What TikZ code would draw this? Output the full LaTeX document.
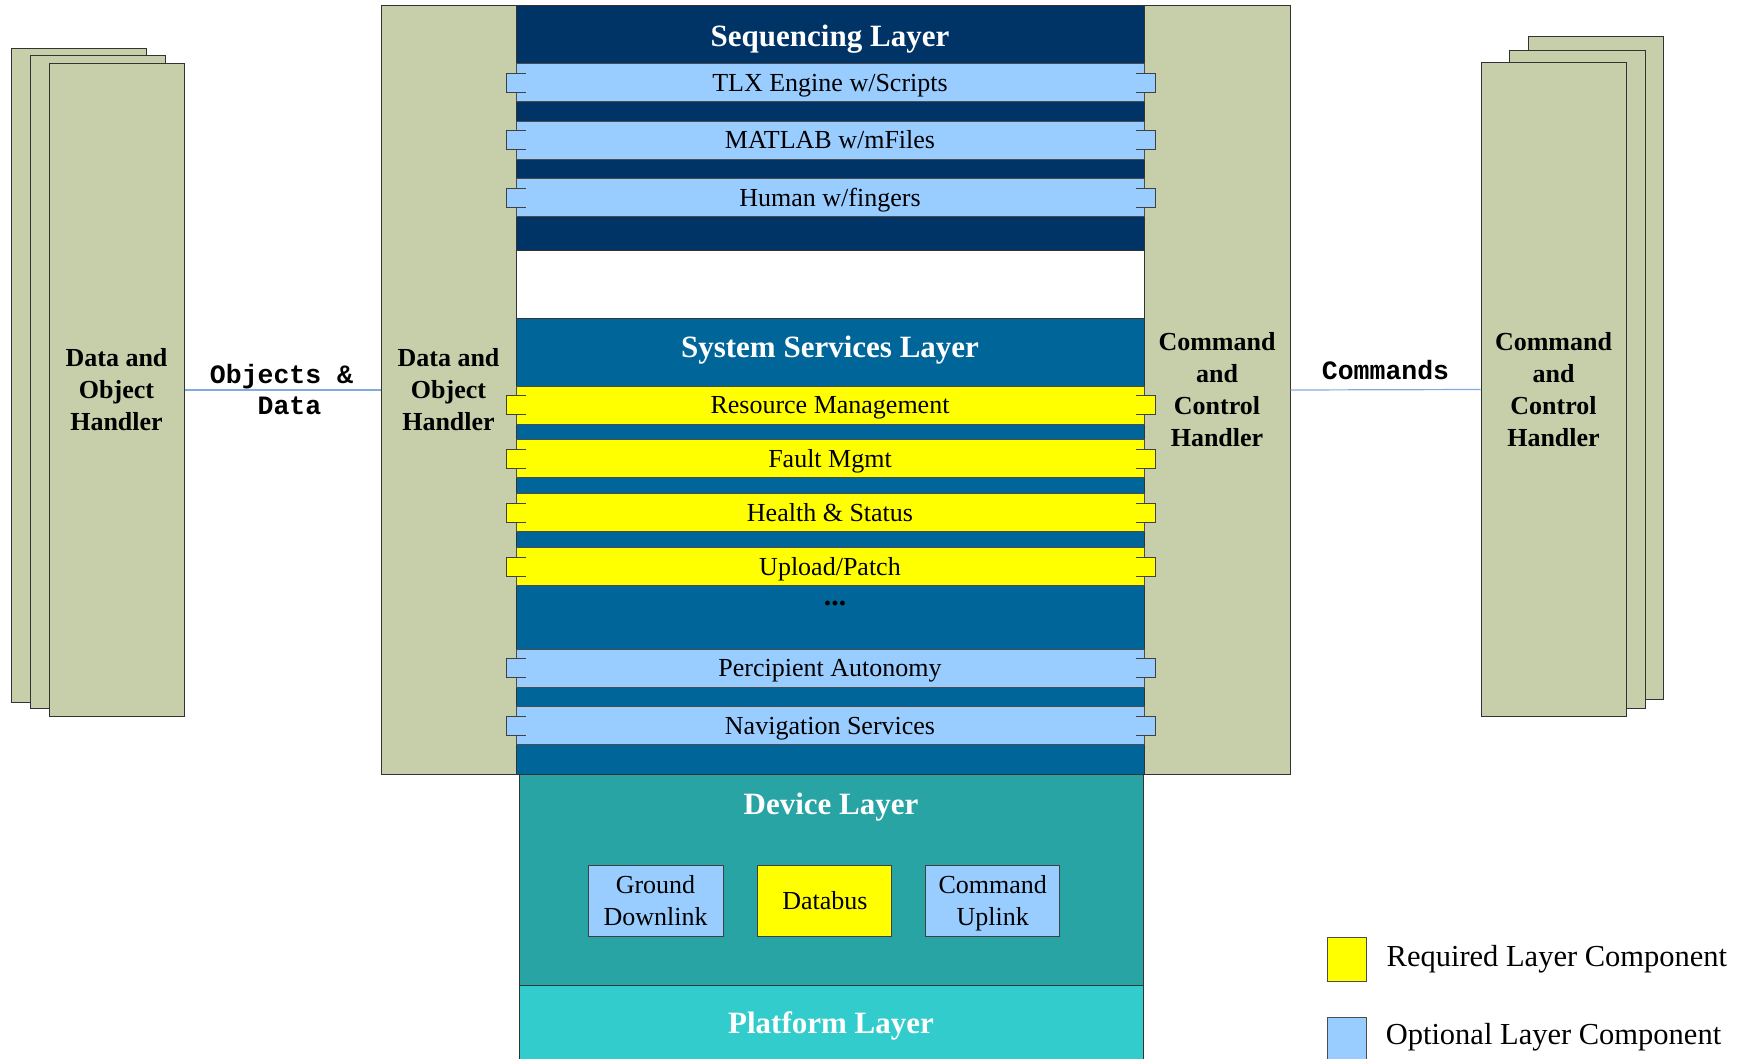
\documentclass[tikz,border=0pt]{standalone}
\usepackage{fontspec}
\setmainfont{Liberation Serif}
\setmonofont{Liberation Mono}
\usetikzlibrary{positioning}

\definecolor{handlerbg}{RGB}{198,206,170}
\definecolor{seqnavy}{RGB}{0,51,102}
\definecolor{servblue}{RGB}{0,102,153}
\definecolor{optblue}{RGB}{153,204,255}
\definecolor{reqyellow}{RGB}{255,255,0}
\definecolor{devteal}{RGB}{41,164,164}
\definecolor{platcyan}{RGB}{51,204,204}
\definecolor{linkblue}{RGB}{130,170,220}

\tikzset{
  handler/.style={draw=black!80, fill=handlerbg, line width=1pt, inner sep=0pt, align=center,
    font=\fontsize{26}{32}\selectfont\bfseries},
  layer/.style={draw=black!80, line width=1pt, inner sep=0pt, minimum width=628pt},
  ltitle/.style={text=white, font=\fontsize{31}{36}\selectfont\bfseries},
  bar/.style={draw=black!70, line width=0.9pt, inner sep=0pt, minimum width=628pt, minimum height=38pt,
    text height=17.2pt, text depth=0pt, font=\fontsize{26}{30}\selectfont},
  devbox/.style={draw=black!75, line width=0.9pt, inner sep=0pt, minimum width=135pt, minimum height=71pt,
    align=center, text depth=0pt, font=\fontsize{26}{32}\selectfont},
  tabline/.style={draw=black!75, line width=0.9pt},
  link/.style={draw=linkblue, line width=1.2pt},
  linklabel/.style={font=\fontsize{26.5}{31}\selectfont\ttfamily\bfseries, align=center},
  legendbox/.style={draw=black!70, line width=0.9pt, minimum width=39pt, minimum height=44pt, inner sep=0pt},
  legendtext/.style={anchor=west, inner sep=0pt, font=\fontsize{30.5}{36}\selectfont}
}

\begin{document}
\begin{tikzpicture}[x=1pt, y=-1pt]
\useasboundingbox (0,0) rectangle (1750,1059);

% outer handler stacks
\node[handler, minimum width=135pt, minimum height=653pt] (dohA) at (78.5,375.5) {};
\node[handler, minimum width=135pt, minimum height=652pt] (dohB) at (97.5,382) {};
\node[handler, minimum width=135pt, minimum height=652pt] (dohC) at (116.5,390) {Data and\\Object\\Handler};
\node[handler, minimum width=135pt, minimum height=662pt] (ccA) at (1595.5,368) {};
\node[handler, minimum width=136pt, minimum height=657pt] (ccB) at (1577,379.5) {};
\node[handler, minimum width=145pt, minimum height=653pt] (ccC) at (1553.5,389.5) {Command\\and\\Control\\Handler};

% layers
\node[layer, fill=seqnavy, minimum height=245pt] (seq) at (830,128.5) {};
\node[layer, fill=servblue, minimum height=456pt] (serv) at (830,546) {};
\node[layer, fill=devteal, minimum width=624pt, minimum height=211pt] (dev) at (831,879.5) {};
\node[layer, fill=platcyan, minimum width=624pt, minimum height=79pt] (plat) at (831,1024.5) {};

% inner handler panels
\node[handler, minimum width=135pt, minimum height=768pt] (dohP) at (448.5,390) {Data and\\Object\\Handler};
\node[handler, minimum width=146pt, minimum height=768pt] (ccP) at (1217,390) {Command\\and\\Control\\Handler};

\node[ltitle] (seqT) at (830,39) {Sequencing Layer};
\node[ltitle] (servT) at (830,350) {System Services Layer};
\node[ltitle] (devT) at (831,807) {Device Layer};
\node[ltitle] (platT) at (831,1026) {Platform Layer};

% sequencing components
\node[bar, fill=optblue] (tlx) at (830,82.5) {TLX Engine w/Scripts};
\node[bar, fill=optblue, below=19pt of tlx] (matlab) {MATLAB w/mFiles};
\node[bar, fill=optblue, below=18.6pt of matlab] (human) {Human w/fingers};

% system services components
\node[bar, fill=reqyellow] (resmgmt) at (830,405) {Resource Management};
\node[bar, fill=reqyellow, below=15pt of resmgmt] (fault) {Fault Mgmt};
\node[bar, fill=reqyellow, below=15pt of fault] (health) {Health \& Status};
\node[bar, fill=reqyellow, below=15pt of health] (upload) {Upload/Patch};
\node[inner sep=0pt, font=\fontsize{30}{30}\selectfont\bfseries] (more) at (835,603) {...};
\node[bar, fill=optblue] (percip) at (830,668) {Percipient Autonomy};
\node[bar, fill=optblue, below=19pt of percip] (nav) {Navigation Services};

% tabs
\foreach \b/\c in {tlx/optblue, matlab/optblue, human/optblue, resmgmt/reqyellow, fault/reqyellow,
    health/reqyellow, upload/reqyellow, percip/optblue, nav/optblue} {
  \fill[\c] ([xshift=-9pt,yshift=-9.5pt]\b.west) rectangle ([xshift=10pt,yshift=9.5pt]\b.west);
  \draw[tabline] ([xshift=10pt,yshift=9.5pt]\b.west) -- ++(-19pt,0pt) -- ++(0pt,-19pt) -- ++(19pt,0pt);
  \fill[\c] ([xshift=-8pt,yshift=-9.5pt]\b.east) rectangle ([xshift=11pt,yshift=9.5pt]\b.east);
  \draw[tabline] ([xshift=-8pt,yshift=9.5pt]\b.east) -- ++(19pt,0pt) -- ++(0pt,-19pt) -- ++(-19pt,0pt);
}

% device components
\node[devbox, fill=optblue] (ground) at (655.5,900.5) {Ground\\Downlink};
\node[devbox, fill=reqyellow, minimum width=134pt, right=34pt of ground] (databus) {Databus};
\node[devbox, fill=optblue, minimum width=134pt, right=33pt of databus] (cmdup) {Command\\Uplink};

% connectors
\draw[link] (dohC.east) -- node[linklabel, xshift=7pt] {Objects \&\hphantom{x}\\Data} (dohP.west);
\draw[link] (ccP.east) -- node[linklabel, above=6pt] {Commands} (ccC.west);

% legend
\node[legendbox, fill=reqyellow] (reqKey) at (1346.5,959) {};
\node[legendtext, right=20pt of reqKey] (reqTxt) {Required Layer Component};
\node[legendbox, fill=optblue] (optKey) at (1346.5,1039) {};
\node[legendtext, right=20pt of optKey.west, xshift=39pt, yshift=2pt] (optTxt) {Optional Layer Component};
\end{tikzpicture}
\end{document}
